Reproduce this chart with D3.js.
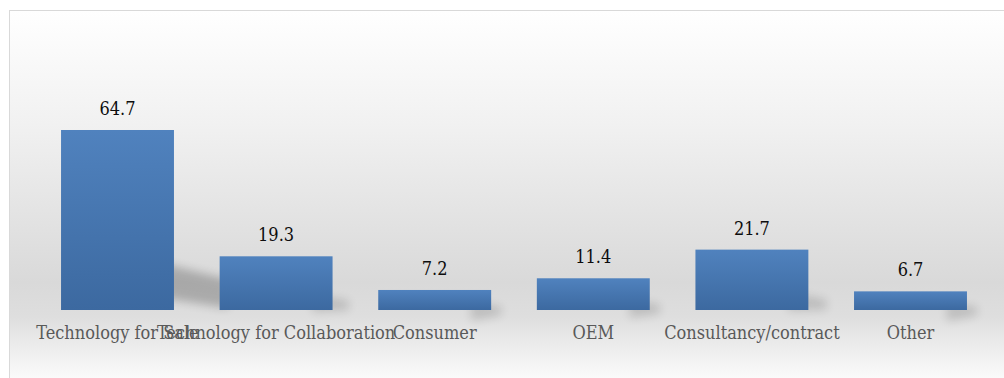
<!DOCTYPE html>
<html>
<head>
<meta charset="utf-8">
<script src="https://cdn.jsdelivr.net/npm/d3@7"></script>
<style>
  html, body { margin: 0; padding: 0; background: #ffffff; }
  svg { display: block; }
  .lbl { font-family: "DejaVu Serif Condensed", "DejaVu Serif", serif; }
</style>
</head>
<body>
<div id="chart"></div>
<script>
// Revenue share by segment
const categories = ["Technology for Sale", "Technology for Collaboration", "Consumer", "OEM", "Consultancy/contract", "Other"];
const values = [64.7, 19.3, 7.2, 11.4, 21.7, 6.7];

const W = 1004, H = 378;
const svg = d3.select("#chart").append("svg").attr("width", W).attr("height", H);
const defs = svg.append("defs");

// Chart area background: soft vertical grey band
const bg = defs.append("linearGradient").attr("id", "bgGrad")
  .attr("x1", 0).attr("y1", 0).attr("x2", 0).attr("y2", 1);
[[0, "#ffffff"], [0.3, "#f1f1f1"], [0.72, "#d9d9d9"], [0.81, "#dedede"], [0.9, "#eeeeee"], [1, "#ffffff"]]
  .forEach(([o, c]) => bg.append("stop").attr("offset", o).attr("stop-color", c));

// Bar fill: lighter blue at the top, darker at the base
const barGrad = defs.append("linearGradient").attr("id", "barGrad")
  .attr("x1", 0).attr("y1", 0).attr("x2", 0).attr("y2", 1);
barGrad.append("stop").attr("offset", 0).attr("stop-color", "#5082be");
barGrad.append("stop").attr("offset", 1).attr("stop-color", "#3c69a0");

const blur = defs.append("filter").attr("id", "shadowBlur")
  .attr("x", "-50%").attr("y", "-50%").attr("width", "200%").attr("height", "200%");
blur.append("feGaussianBlur").attr("stdDeviation", 5);

svg.append("rect").attr("x", 9.5).attr("y", 10.5).attr("width", W).attr("height", H)
  .attr("fill", "url(#bgGrad)").attr("stroke", "#d9d9d9").attr("stroke-width", 1);

const baseY = 310;
const x = d3.scaleBand().domain(categories).range([38.2, 989.8]).paddingInner(0.288).paddingOuter(0.144);
const y = d3.scaleLinear().domain([0, 64.7]).range([baseY, 130]);

const data = categories.map((c, i) => ({ c, v: values[i] }));

// Cast shadows behind each bar
svg.append("g").selectAll("path").data(data).join("path")
  .attr("d", d => {
    const x1 = x(d.c) + x.bandwidth();
    const h = baseY - y(d.v);
    const t = Math.max(h * 0.14, 8);
    const dx = Math.max(h * 0.3, 10);
    return d3.line()([
      [x1 - 20, baseY - h * 0.26 - 2],
      [x1 + dx, baseY - h * 0.17],
      [x1 + dx, baseY - h * 0.17 + t + h * 0.02],
      [x1 - 20, baseY - h * 0.26 + t + 8]
    ]) + "Z";
  })
  .attr("fill", "#000").attr("opacity", d => d.v > 30 ? 0.22 : 0.14)
  .attr("filter", "url(#shadowBlur)");

svg.append("g").selectAll("rect").data(data).join("rect")
  .attr("x", d => x(d.c))
  .attr("y", d => y(d.v))
  .attr("width", x.bandwidth())
  .attr("height", d => baseY - y(d.v))
  .attr("fill", "url(#barGrad)");

// Value labels
svg.append("g").selectAll("text").data(data).join("text")
  .attr("class", "lbl")
  .attr("x", d => x(d.c) + x.bandwidth() / 2)
  .attr("y", d => y(d.v) - 15)
  .attr("text-anchor", "middle")
  .attr("font-size", 18)
  .attr("fill", "#0d0d0d")
  .text(d => d.v.toFixed(1));

// Category axis labels
const axis = d3.axisBottom(x).tickSize(0).tickPadding(0);
const ax = svg.append("g").attr("transform", `translate(0,${baseY})`).call(axis);
ax.select(".domain").remove();
ax.selectAll("text")
  .attr("class", "lbl")
  .attr("dy", null)
  .attr("y", 29)
  .attr("font-size", 18)
  .attr("fill", "#595959");
</script>
</body>
</html>
